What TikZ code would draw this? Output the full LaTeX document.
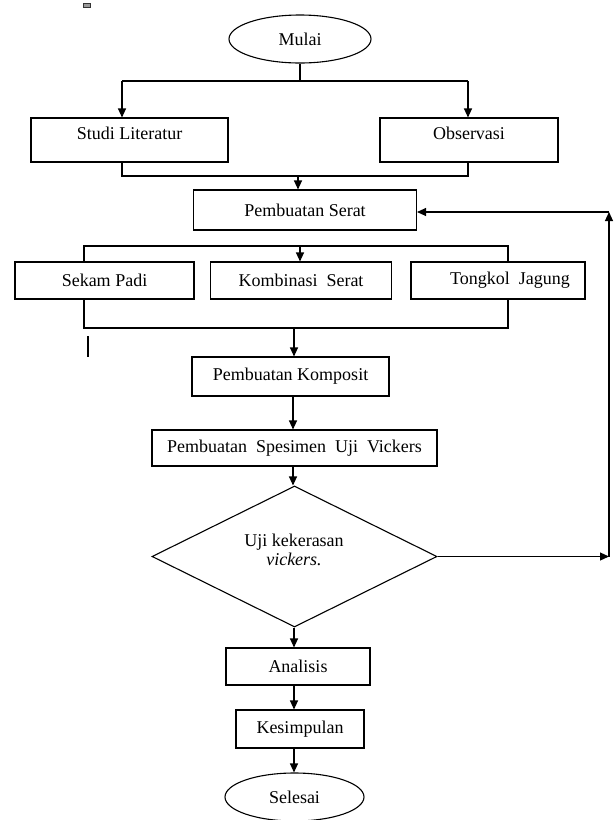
\documentclass[tikz,border=0pt]{standalone}
\usepackage{fontspec}
\setmainfont{Liberation Serif}
\usetikzlibrary{shapes.geometric,arrows.meta}
\begin{document}
\begin{tikzpicture}[x=1pt,y=-1pt,
  line width=1.1pt,
  txt/.style={font=\fontsize{18}{21}\selectfont, inner sep=0pt},
  box/.style={txt, draw, rectangle, line width=1.1pt},
  term/.style={txt, draw, ellipse, line width=1.1pt},
  dec/.style={draw, diamond, line width=1.1pt, inner sep=0pt},
  raised/.style={text depth=14pt},
  arr/.style={-{Triangle[length=9pt,width=8pt]}}]
\useasboundingbox (0,0) rectangle (616,820);
% nodes
\node[term, minimum width=142, minimum height=48] (mulai) at (300,39) {Mulai};
\node[box, raised, minimum width=197, minimum height=44] (studi) at (129.5,140) {Studi Literatur};
\node[box, raised, minimum width=178, minimum height=44] (obs) at (469,140) {Observasi};
\node[box, minimum width=223, minimum height=40] (serat) at (305,210) {Pembuatan Serat};
\node[box, minimum width=179, minimum height=37] (sekam) at (104.5,280.5) {Sekam Padi};
\node[box, minimum width=181, minimum height=37] (komb) at (301,280.5) {Kombinasi\ \ Serat};
\node[box, minimum width=174, minimum height=37] (tong) at (498,280.5) {\hspace*{24pt}Tongkol\ \ Jagung};
\node[box, minimum width=197, minimum height=39] (komp) at (290.5,376.5) {Pembuatan Komposit};
\node[box, minimum width=285, minimum height=36] (spes) at (294.5,448) {Pembuatan\ \ Spesimen\ \ Uji\ \ Vickers};
\node[dec, minimum width=285, minimum height=141] (uji) at (294.5,556.5) {};
\node[txt, align=center] (ujit) at (294,550) {Uji kekerasan\\[-2pt]\textit{vickers.}};
\node[box, minimum width=144, minimum height=37] (anal) at (298,666.5) {Analisis};
\node[box, minimum width=128, minimum height=38] (kes) at (300,729) {Kesimpulan};
\node[term, minimum width=139, minimum height=48] (sel) at (294.5,797) {Selesai};
% coordinates
\coordinate (bl) at (122,81);
\coordinate (br) at (468,81);
\coordinate (jl) at (122,176);
\coordinate (jr) at (468,176);
\coordinate (jm) at (298,176);
\coordinate (cl) at (84,246);
\coordinate (cr) at (508,246);
\coordinate (cm) at (300,246);
\coordinate (dl) at (84,328);
\coordinate (dr) at (508,328);
\coordinate (dm) at (294,328);
\coordinate (fb) at (609,556.5);
\coordinate (ft) at (609,212);
% connectors
\draw (mulai.south) -- (mulai.south |- bl);
\draw (bl) -- (br);
\draw[arr] (bl) -- (bl |- studi.north);
\draw[arr] (br) -- (br |- obs.north);
\draw (jl |- studi.south) -- (jl) -- (jr) -- (jr |- obs.south);
\draw[arr] (jm) -- (jm |- serat.north);
\draw (cl |- sekam.north) -- (cl) -- (cr) -- (cr |- tong.north);
\draw[arr] (cm) -- (cm |- komb.north);
\draw (dl |- sekam.south) -- (dl) -- (dr) -- (dr |- tong.south);
\draw[arr] (dm) -- (dm |- komp.north);
\draw[arr] (komp.south -| 293,0) -- (spes.north -| 293,0);
\draw[arr] (spes.south -| 293,0) -- (uji.north -| 293,0);
\draw[arr] (uji.east) -- (fb);
\draw[arr] (fb) -- (ft);
\draw[arr] (ft) -- (ft -| serat.east);
\draw[arr] (uji.south -| 294,0) -- (anal.north -| 294,0);
\draw[arr] (anal.south -| 294,0) -- (kes.north -| 294,0);
\draw[arr] (kes.south -| 294,0) -- (sel.north -| 294,0);
% stray marks
\draw[line width=0.8pt, draw=black!80, fill=black!40] (83.5,3.5) rectangle (90.5,7);
\draw[line width=2.4pt] (88,336) -- (88,357);
\end{tikzpicture}
\end{document}
